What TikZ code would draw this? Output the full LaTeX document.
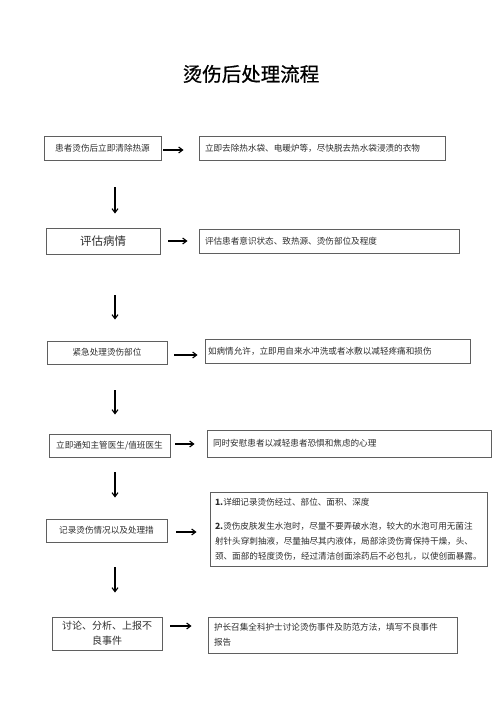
\documentclass[tikz,border=0pt]{standalone}
\usepackage{fontspec}
\setmainfont{Noto Sans CJK SC}
\newfontfamily\titlefont[FakeBold=0.8]{Noto Sans CJK SC}
\usetikzlibrary{arrows.meta, positioning}
\definecolor{boxgray}{RGB}{95,95,95}
\definecolor{textgray}{RGB}{45,45,45}

\tikzset{
    stepleft/.style={draw=boxgray, line width=0.9pt, text=textgray, align=center,
        inner sep=2pt, font=\fontsize{8.6}{15}\selectfont},
    stepright/.style={draw=boxgray, line width=0.9pt, text=textgray, align=left,
        inner xsep=6pt, inner ysep=3pt, font=\fontsize{8.6}{15}\selectfont},
    rarrow/.style={-{Straight Barb[length=4pt, width=6pt]}, line width=1.1pt},
    darrow/.style={-{Straight Barb[length=4pt, width=6pt]}, line width=1.1pt}
}

\begin{document}
\begin{tikzpicture}[x=1pt, y=-1pt]
    \useasboundingbox (0,0) rectangle (500,708);

    % title
    \node[font=\titlefont\fontsize{19.5}{20}\selectfont] (title) at (251,74) {烫伤后处理流程};

    % left column
    \node[stepleft, minimum width=117pt, minimum height=24pt] (l1) at (102.5,148) {患者烫伤后立即清除热源};
    \node[stepleft, minimum width=114pt, minimum height=26pt, font=\fontsize{11.5}{15}\selectfont] (l2) at (103,241) {评估病情};
    \node[stepleft, minimum width=120pt, minimum height=23pt] (l3) at (107,352.5) {紧急处理烫伤部位};
    \node[stepleft, minimum width=121pt, minimum height=23pt] (l4) at (109.5,445.5) {立即通知主管医生/值班医生};
    \node[stepleft, minimum width=121pt, minimum height=23pt] (l5) at (106.5,530.5) {记录烫伤情况以及处理措};
    \node[stepleft, minimum width=110pt, minimum height=33pt, font=\fontsize{10}{15}\selectfont] (l6) at (107,633.5) {讨论、分析、上报不\\良事件};

    % right column
    \node[stepright, text width=234pt, minimum height=24pt] (r1) at (322,148) {立即去除热水袋、电暖炉等，尽快脱去热水袋浸渍的衣物};
    \node[stepright, text width=248pt, minimum height=24pt] (r2) at (329,241) {评估患者意识状态、致热源、烫伤部位及程度};
    \node[stepright, text width=259pt, minimum height=24pt, inner xsep=3pt] (r3) at (337.5,351) {如病情允许，立即用自来水冲洗或者冰敷以减轻疼痛和损伤};
    \node[stepright, text width=272pt, minimum height=27pt] (r4) at (349,443.5) {同时安慰患者以减轻患者恐惧和焦虑的心理};
    \node[stepright, text width=267pt, minimum height=74pt, inner xsep=5pt] (r5) at (348.5,529) {\textbf{1.}详细记录烫伤经过、部位、面积、深度\\[9pt]
        \textbf{2.}烫伤皮肤发生水泡时，尽量不要弄破水泡，较大的水泡可用无菌注\\
        射针头穿刺抽液，尽量抽尽其内液体，局部涂烫伤膏保持干燥，头、\\
        颈、面部的轻度烫伤，经过清洁创面涂药后不必包扎，以使创面暴露。};
    \node[stepright, text width=237pt, minimum height=36pt] (r6) at (332.5,635) {护长召集全科护士讨论烫伤事件及防范方法，填写不良事件\\报告};

    % arrows to the right
    \foreach \a/\b/\dy/\s/\e in {l1/r1/-2/2/15, l2/r2/0/8/11, l3/r3/-2.5/7/7, l4/r4/1.5/5/12, l5/r5/-1.5/9/13, l6/r6/7.5/8/16} {
        \draw[rarrow, shorten <=\s pt, shorten >=\e pt] ([yshift=\dy pt]\a.east) -- ([yshift=\dy pt]\a.east -| \b.west);
    }

    % arrows down
    \coordinate (col) at (115,0);
    \foreach \a/\b/\s/\e in {l1/l2/27/14, l2/l3/41/21, l3/l4/26/19, l4/l5/15/21, l5/l6/25/24} {
        \draw[darrow, shorten <=\s pt, shorten >=\e pt] (\a.south -| col) -- (\b.north -| col);
    }
\end{tikzpicture}
\end{document}
